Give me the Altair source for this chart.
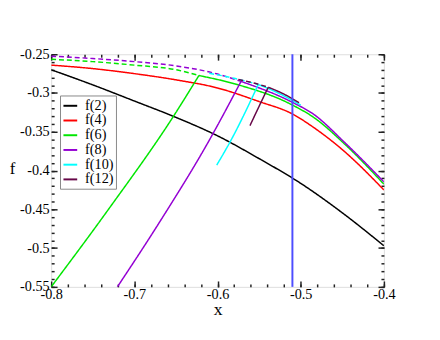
import altair as alt
import pandas as pd

# ---------------- data ----------------
series_names = ["f(2)", "f(4)", "f(6)", "f(8)", "f(10)", "f(12)"]
series_colors = ["#000000", "#ff0000", "#00e600", "#9400d3", "#00ffff", "#670748"]

# f(2)
f2_x = [-0.8, -0.75, -0.7, -0.65, -0.6, -0.55, -0.5, -0.45, -0.4]
f2_y = [-0.270, -0.2895, -0.3103, -0.3314, -0.3552, -0.3846, -0.4165, -0.4545, -0.497]

# f(4)
f4_x = [-0.8, -0.75, -0.7, -0.65, -0.6, -0.55, -0.51, -0.485, -0.45, -0.4]
f4_y = [-0.264, -0.2685, -0.275, -0.283, -0.2935, -0.311, -0.327, -0.344, -0.373, -0.425]

# f(6)
f6_dash_x = [-0.8, -0.75, -0.7, -0.65, -0.6224]
f6_dash_y = [-0.2565, -0.2595, -0.264, -0.270, -0.2774]
f6_solid_x = [-0.6224, -0.58, -0.51, -0.485, -0.447, -0.4]
f6_solid_y = [-0.2774, -0.288, -0.3155, -0.331, -0.366, -0.4175]
f6_branch_x = [-0.8, -0.7314, -0.653, -0.6224]
f6_branch_y = [-0.55, -0.4504, -0.330, -0.2774]

# f(8)
f8_dash_x = [-0.8, -0.75, -0.7, -0.65, -0.6, -0.5718]
f8_dash_y = [-0.2525, -0.2555, -0.2595, -0.265, -0.2755, -0.285]
f8_solid_x = [-0.5718, -0.51, -0.485, -0.447, -0.4]
f8_solid_y = [-0.285, -0.312, -0.327, -0.364, -0.4146]
f8_branch_x = [-0.7204, -0.67, -0.61, -0.5718]
f8_branch_y = [-0.55, -0.467, -0.361, -0.285]

# f(10)
f10_dash_x = [-0.61, -0.58, -0.551]
f10_dash_y = [-0.2745, -0.281, -0.289]
f10_solid_x = [-0.551, -0.53, -0.51, -0.5]
f10_solid_y = [-0.289, -0.2985, -0.3095, -0.3155]
f10_branch_x = [-0.601, -0.5844, -0.551]
f10_branch_y = [-0.393, -0.362, -0.289]

# f(12)
f12_dash_x = [-0.575, -0.555, -0.539]
f12_dash_y = [-0.2825, -0.2875, -0.2925]
f12_solid_x = [-0.539, -0.52, -0.502]
f12_solid_y = [-0.2925, -0.3015, -0.3125]
f12_branch_x = [-0.561, -0.55, -0.539]
f12_branch_y = [-0.342, -0.317, -0.2925]

vline_x = [-0.51]

x_major = [-0.8, -0.7, -0.6, -0.5, -0.4]
y_major = [-0.55, -0.5, -0.45, -0.4, -0.35, -0.3, -0.25]
x_minor = [round(-0.8 + 0.02 * i, 2) for i in range(21)]
y_minor = [round(-0.55 + 0.01 * i, 2) for i in range(31)]

# ---------------- table ----------------
segments = [
    ("f(2)", "solid", f2_x, f2_y),
    ("f(4)", "solid", f4_x, f4_y),
    ("f(6)", "dashed", f6_dash_x, f6_dash_y),
    ("f(6)", "solid", f6_solid_x, f6_solid_y),
    ("f(6)", "solid", f6_branch_x, f6_branch_y),
    ("f(8)", "dashed", f8_dash_x, f8_dash_y),
    ("f(8)", "solid", f8_solid_x, f8_solid_y),
    ("f(8)", "solid", f8_branch_x, f8_branch_y),
    ("f(10)", "dashed", f10_dash_x, f10_dash_y),
    ("f(10)", "solid", f10_solid_x, f10_solid_y),
    ("f(10)", "solid", f10_branch_x, f10_branch_y),
    ("f(12)", "dashed", f12_dash_x, f12_dash_y),
    ("f(12)", "solid", f12_solid_x, f12_solid_y),
    ("f(12)", "solid", f12_branch_x, f12_branch_y),
]
rows = []
for k, (name, style, xs, ys) in enumerate(segments):
    for xv, yv in zip(xs, ys):
        rows.append({"series": name, "style": style, "seg": k, "x": xv, "y": yv})
df = pd.DataFrame(rows)
df_v = pd.DataFrame({"x": vline_x})

FONT = "Liberation Serif"
xs_ = alt.Scale(domain=[-0.8, -0.4], nice=False, zero=False)
ys_ = alt.Scale(domain=[-0.55, -0.25], nice=False, zero=False)
LBL = "datum.value < 0 ? '-' + format(-datum.value, '.2~f') : format(datum.value, '.2~f')"


def tick_axis(orient, values, size):
    return alt.Axis(orient=orient, values=values, tickSize=size, offset=-size,
                    domain=False, grid=False, labels=False, title="",
                    tickColor="#222222", tickWidth=1.5)


ax_bottom = alt.Axis(orient="bottom", values=x_major, tickSize=6, offset=-6, domain=False,
                     grid=False, labelExpr=LBL, labelFont=FONT, labelFontSize=14.5,
                     labelColor="black", labelPadding=1, labelOverlap=False, labelFlush=False,
                     tickColor="#222222", tickWidth=1.5,
                     title="x", titleFont=FONT, titleFontSize=18, titleFontWeight="normal",
                     titleColor="black", titleY=34, titleBaseline="alphabetic")
ax_left = alt.Axis(orient="left", values=y_major, tickSize=6, offset=-6, domain=False,
                   grid=False, labelExpr=LBL, labelFont=FONT, labelFontSize=14.5,
                   labelColor="black", labelPadding=2, labelOverlap=False, labelFlush=False,
                   tickColor="#222222", tickWidth=1.5,
                   title="f", titleFont=FONT, titleFontSize=17, titleFontWeight="normal",
                   titleColor="black", titleAngle=0, titleX=-46, titleY=121,
                   titleAlign="center", titleBaseline="alphabetic")

base = alt.Chart(df)

lines = base.mark_line(strokeWidth=1.5, clip=True, interpolate="monotone").encode(
    x=alt.X("x:Q", scale=xs_, axis=ax_bottom),
    y=alt.Y("y:Q", scale=ys_, axis=ax_left),
    color=alt.Color("series:N", scale=alt.Scale(domain=series_names, range=series_colors),
                    legend=alt.Legend(orient="none", legendX=9, legendY=42, title=None,
                                      fillColor="white", strokeColor="#888888",
                                      padding=2.5, symbolType="stroke", symbolSize=196,
                                      symbolStrokeWidth=2, labelFont=FONT, labelFontSize=14.5,
                                      labelColor="black", labelOffset=7, rowPadding=0)),
    strokeDash=alt.StrokeDash("style:N", scale=alt.Scale(domain=["solid", "dashed"],
                                                         range=[[1, 0], [5, 3]]), legend=None),
    detail="seg:N",
)

vline = alt.Chart(df_v).mark_rule(color="#4d4dff", strokeWidth=2).encode(
    x=alt.X("x:Q", scale=xs_, axis=None)
)

t1 = base.mark_point(opacity=0, clip=True).encode(
    x=alt.X("x:Q", scale=xs_, axis=tick_axis("top", x_major, 6)),
    y=alt.Y("y:Q", scale=ys_, axis=tick_axis("right", y_major, 6)),
)
t2 = base.mark_point(opacity=0, clip=True).encode(
    x=alt.X("x:Q", scale=xs_, axis=tick_axis("bottom", x_minor, 3)),
    y=alt.Y("y:Q", scale=ys_, axis=tick_axis("left", y_minor, 3)),
)
t3 = base.mark_point(opacity=0, clip=True).encode(
    x=alt.X("x:Q", scale=xs_, axis=tick_axis("top", x_minor, 3)),
    y=alt.Y("y:Q", scale=ys_, axis=tick_axis("right", y_minor, 3)),
)

chart = alt.layer(lines, vline, t1, t2, t3).resolve_axis(
    x="independent", y="independent"
).properties(
    width=339, height=237,
    autosize=alt.AutoSizeParams(type="none"),
    padding={"left": 44, "top": 44, "right": 49, "bottom": 51},
).configure_view(stroke="#222222", strokeWidth=1.5).configure(background="white")

chart.save("out.html", embed_options={"renderer": "svg", "actions": False})
